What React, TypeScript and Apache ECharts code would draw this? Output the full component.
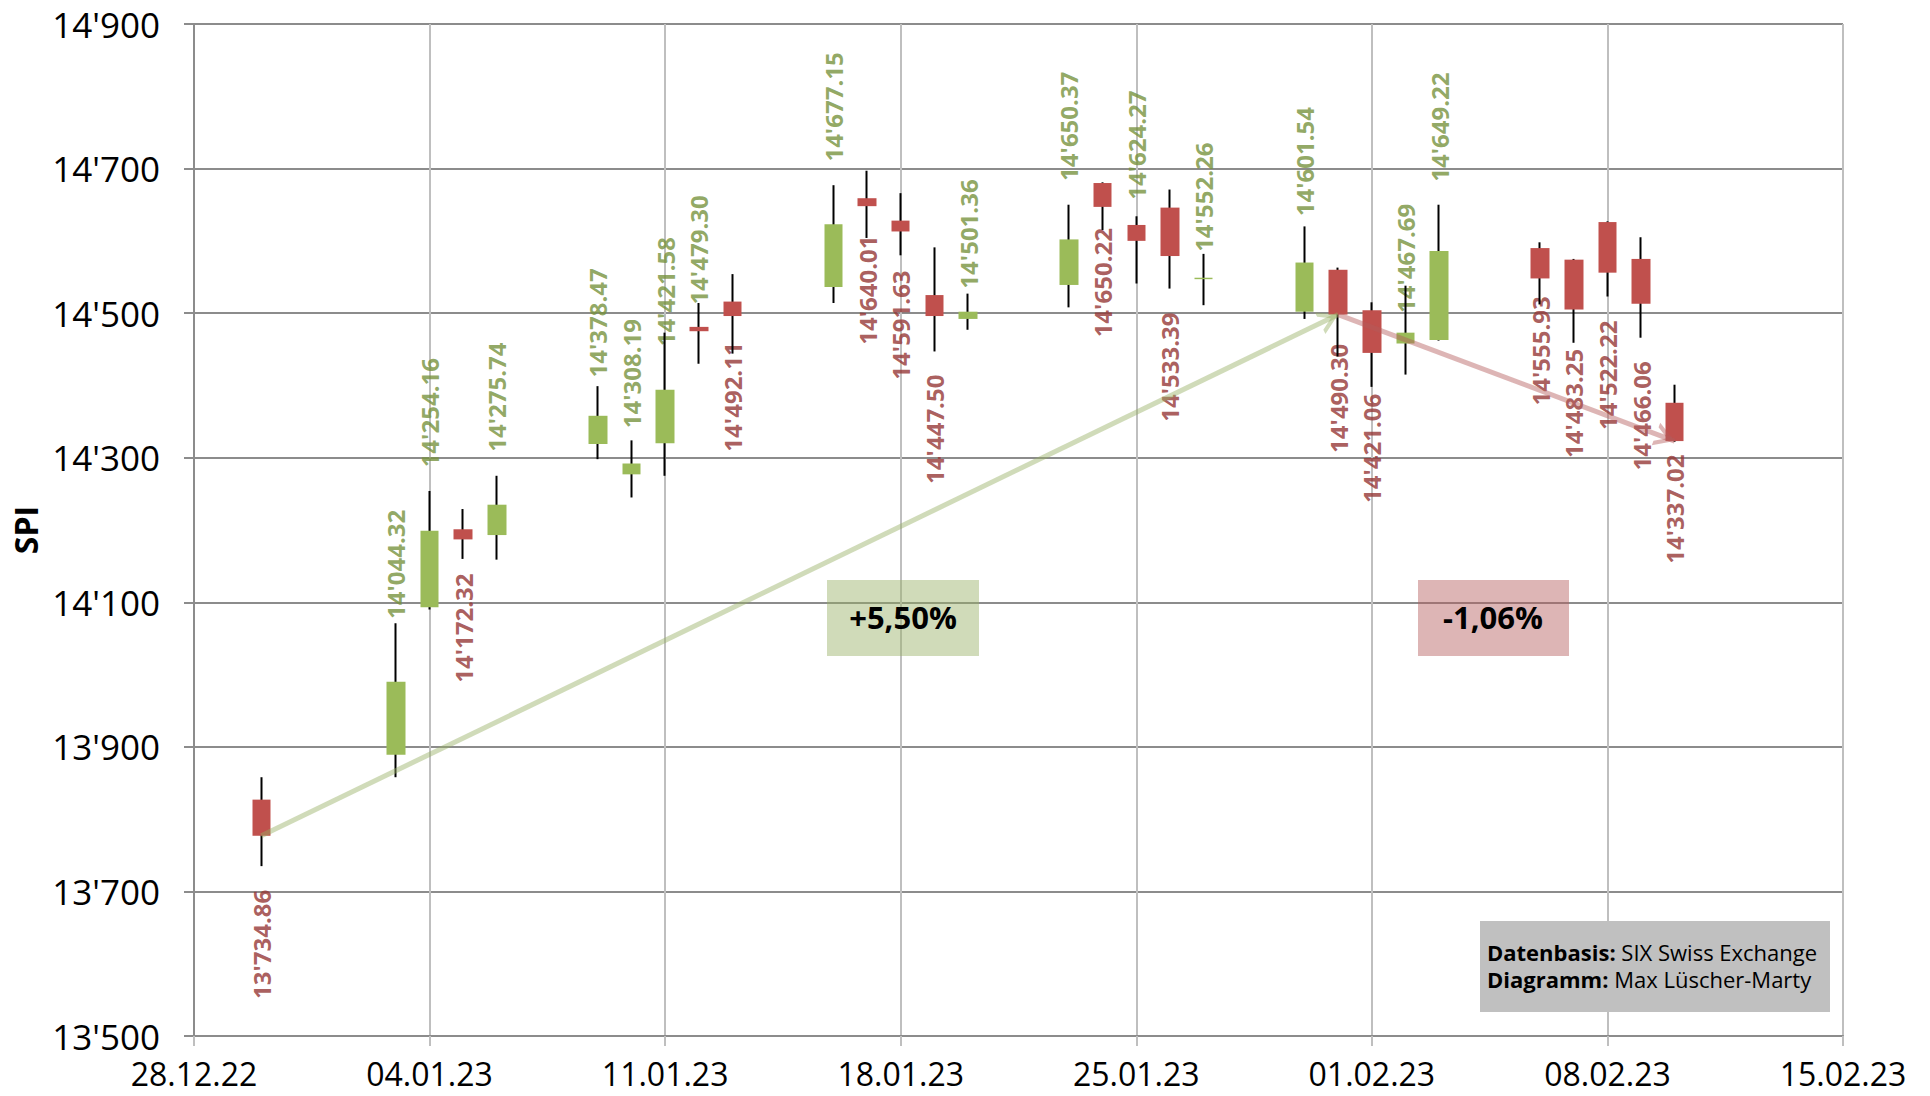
import React, { useEffect, useRef } from "react";
import * as echarts from "echarts";

// ---------- data ----------
const axisStartDate = "2022-12-28";
const xTickLabels = ["28.12.22", "04.01.23", "11.01.23", "18.01.23", "25.01.23", "01.02.23", "08.02.23", "15.02.23"];
const xMaxDays = 49;
const xStepDays = 7;
const yMin = 13500;
const yMax = 14900;
const yStep = 200;

const tradingDays = [
  "2022-12-30", "2023-01-03", "2023-01-04", "2023-01-05", "2023-01-06",
  "2023-01-09", "2023-01-10", "2023-01-11", "2023-01-12", "2023-01-13",
  "2023-01-16", "2023-01-17", "2023-01-18", "2023-01-19", "2023-01-20",
  "2023-01-23", "2023-01-24", "2023-01-25", "2023-01-26", "2023-01-27",
  "2023-01-30", "2023-01-31", "2023-02-01", "2023-02-02", "2023-02-03",
  "2023-02-06", "2023-02-07", "2023-02-08", "2023-02-09", "2023-02-10",
];
const openValues = [
  13827, 13889, 14093, 14201, 14193,
  14319, 14277, 14320, 14481, 14516,
  14536, 14659, 14628, 14525, 14492,
  14539, 14680, 14622, 14646, 14547,
  14502, 14560, 14504, 14458, 14463,
  14590, 14574, 14626, 14575, 14376,
];
const closeValues = [
  13777, 13990, 14199, 14187, 14235,
  14358, 14292, 14394, 14475, 14496,
  14623, 14648, 14613, 14496, 14502,
  14602, 14647, 14600, 14579, 14549,
  14570, 14498, 14445, 14473, 14586,
  14548, 14505, 14556, 14513, 14323,
];
const lowValues = [
  13735, 13858, 14090, 14160, 14159,
  14298, 14245, 14275, 14430, 14444,
  14514, 14604, 14580, 14447, 14477,
  14508, 14615, 14541, 14534, 14511,
  14492, 14440, 14398, 14415, 14462,
  14512, 14459, 14523, 14466, 14322,
];
const highValues = [
  13858, 14071, 14254, 14229, 14275,
  14399, 14324, 14473, 14514, 14554,
  14677, 14697, 14666, 14591, 14527,
  14650, 14681, 14634, 14671, 14582,
  14620, 14563, 14515, 14538, 14650,
  14598, 14575, 14627, 14605, 14401,
];
const closeLabels = [
  13734.86, 14044.32, 14254.16, 14172.32, 14275.74,
  14378.47, 14308.19, 14421.58, 14479.3, 14492.11,
  14677.15, 14640.01, 14591.63, 14447.5, 14501.36,
  14650.37, 14650.22, 14624.27, 14533.39, 14552.26,
  14601.54, 14490.3, 14421.06, 14467.69, 14649.22,
  14555.93, 14483.25, 14522.22, 14466.06, 14337.02,
];
const labelDirection = [
  "down", "up", "up", "down", "up",
  "up", "up", "up", "up", "down",
  "up", "down", "down", "down", "up",
  "up", "down", "up", "down", "up",
  "up", "down", "down", "up", "up",
  "down", "down", "down", "down", "down",
];
const trendArrows = [
  { from: "2022-12-30", to: "2023-01-31", kind: "up" },
  { from: "2023-01-31", to: "2023-02-10", kind: "down" },
];
const sourceLines = [
  { key: "Datenbasis:", text: "SIX Swiss Exchange" },
  { key: "Diagramm:", text: "Max Lüscher-Marty" },
];

// ---------- helpers ----------
const FONT = "'Open Sans', 'Noto Sans', sans-serif";
const GREEN = "#9BBB59";
const RED = "#C0504D";
const GREEN_TXT = "#76923C";
const RED_TXT = "#943634";
const GREEN_SOFT = "rgba(150,175,100,0.45)";
const RED_SOFT = "rgba(180,90,90,0.45)";

function dayOffset(d: string): number {
  const [y, m, dd] = d.split("-").map(Number);
  const [y0, m0, d0] = axisStartDate.split("-").map(Number);
  return Math.round((Date.UTC(y, m - 1, dd) - Date.UTC(y0, m0 - 1, d0)) / 86400000);
}
function swissInt(n: number): string {
  const s = String(Math.trunc(n));
  return s.replace(/\B(?=(\d{3})+(?!\d))/g, "'");
}
function swissNum(n: number): string {
  const [i, d] = n.toFixed(2).split(".");
  return swissInt(Number(i)) + "." + d;
}
function pctText(a: number, b: number): string {
  const p = (b / a - 1) * 100;
  return (p >= 0 ? "+" : "-") + Math.abs(p).toFixed(2).replace(".", ",") + "%";
}

const arrowPath =
  "path://M11.9,-20 L12.1,-20 L12,-19.9 Z M0,20 L12,0 L24,20 L19.2,20 L12,8.2 L4.8,20 Z";

export default function App() {
  const ref = useRef<HTMLDivElement>(null);

  useEffect(() => {
    if (!ref.current) return;
    const chart = echarts.init(ref.current, undefined, { renderer: "svg" });

    const xs = tradingDays.map(dayOffset);
    const wickData = xs.map((x, i) => [x, openValues[i], closeValues[i], lowValues[i], highValues[i]]);
    const bodyData = xs.map((x, i) => [
      x,
      openValues[i],
      closeValues[i],
      Math.min(openValues[i], closeValues[i]),
      Math.max(openValues[i], closeValues[i]),
    ]);
    const labelData = xs.map((x, i) => {
      const up = labelDirection[i] === "up";
      return {
        value: [x, closeLabels[i]],
        label: {
          position: up ? "top" : "bottom",
          align: up ? "left" : "right",
          verticalAlign: "middle",
          color: up ? GREEN_TXT : RED_TXT,
        },
      };
    });

    const idx = (d: string) => tradingDays.indexOf(d);
    const markLines = trendArrows.map((a) => {
      const color = a.kind === "up" ? GREEN_SOFT : RED_SOFT;
      const ls = { color, width: 5, type: "solid" as const, opacity: 1 };
      return [
        { coord: [dayOffset(a.from), closeValues[idx(a.from)]], lineStyle: ls },
        { coord: [dayOffset(a.to), closeValues[idx(a.to)]], lineStyle: ls },
      ];
    });
    const pctUp = pctText(closeLabels[idx(trendArrows[0].from)], closeLabels[idx(trendArrows[0].to)]);
    const pctDown = pctText(closeLabels[idx(trendArrows[1].from)], closeLabels[idx(trendArrows[1].to)]);

    const sourceText = sourceLines.map((l) => `{b|${l.key}} ${l.text}`).join("\n");

    const option: any = {
      animation: false,
      backgroundColor: "#ffffff",
      grid: { left: 194, right: 87, top: 24, bottom: 60, containLabel: false },
      xAxis: {
        type: "value",
        min: 0,
        max: xMaxDays,
        interval: xStepDays,
        axisLine: { show: true, onZero: false, lineStyle: { color: "#8c8c8c", width: 2 } },
        axisTick: { show: true, length: 10, lineStyle: { color: "#bfbfbf", width: 2 } },
        axisLabel: {
          formatter: (v: number) => xTickLabels[Math.round(v / xStepDays)] ?? "",
          fontSize: 32,
          color: "#000",
          fontFamily: FONT,
          margin: 21,
        },
        splitLine: { show: true, lineStyle: { color: "#bfbfbf", width: 2 } },
      },
      yAxis: {
        type: "value",
        min: yMin,
        max: yMax,
        interval: yStep,
        name: "SPI",
        nameLocation: "middle",
        nameRotate: 90,
        nameGap: 146,
        nameTextStyle: { fontSize: 32, fontWeight: "bold", color: "#000", fontFamily: FONT },
        axisLine: { show: true, onZero: false, lineStyle: { color: "#8c8c8c", width: 2 } },
        axisTick: { show: true, length: 10, lineStyle: { color: "#8c8c8c", width: 2 } },
        axisLabel: {
          formatter: (v: number) => swissInt(v),
          fontSize: 35,
          color: "#000",
          fontFamily: FONT,
          margin: 34,
        },
        splitLine: { show: true, lineStyle: { color: "#8c8c8c", width: 2 } },
      },
      series: [
        {
          type: "scatter",
          name: "labels",
          z: 1,
          silent: true,
          symbolSize: 1,
          itemStyle: { color: "rgba(0,0,0,0)" },
          label: {
            show: true,
            rotate: 90,
            distance: 23,
            fontSize: 24,
            fontWeight: "bold",
            fontFamily: FONT,
            formatter: (p: any) => swissNum(p.value[1]),
          },
          data: labelData,
        },
        {
          type: "candlestick",
          name: "wicks",
          z: 3,
          silent: true,
          barWidth: 1,
          itemStyle: {
            color: "#000",
            color0: "#000",
            borderColor: "#000",
            borderColor0: "#000",
            borderWidth: 2,
          },
          data: wickData,
        },
        {
          type: "candlestick",
          name: "SPI",
          z: 4,
          silent: true,
          barWidth: 19,
          itemStyle: {
            color: GREEN,
            color0: RED,
            borderColor: GREEN,
            borderColor0: RED,
            borderWidth: 0,
          },
          data: bodyData,
          markLine: {
            silent: true,
            animation: false,
            symbol: ["none", arrowPath],
            symbolSize: [24, 40],
            label: { show: false },
            emphasis: { disabled: true },
            lineStyle: { width: 5, type: "solid" },
            data: markLines,
          },
        },
      ],
      graphic: [
        {
          type: "rect",
          z: 10,
          shape: { x: 827, y: 580, width: 152, height: 76 },
          style: { fill: GREEN_SOFT },
          silent: true,
        },
        {
          type: "text",
          z: 11,
          x: 903,
          y: 617,
          style: {
            text: pctUp,
            fontSize: 31,
            fontWeight: "bold",
            fontFamily: FONT,
            fill: "#000",
            align: "center",
            verticalAlign: "middle",
            textAlign: "center",
            textVerticalAlign: "middle",
          },
          silent: true,
        },
        {
          type: "rect",
          z: 10,
          shape: { x: 1418, y: 580, width: 151, height: 76 },
          style: { fill: RED_SOFT },
          silent: true,
        },
        {
          type: "text",
          z: 11,
          x: 1493,
          y: 617,
          style: {
            text: pctDown,
            fontSize: 31,
            fontWeight: "bold",
            fontFamily: FONT,
            fill: "#000",
            align: "center",
            verticalAlign: "middle",
            textAlign: "center",
            textVerticalAlign: "middle",
          },
          silent: true,
        },
        {
          type: "rect",
          z: 10,
          shape: { x: 1480, y: 921, width: 350, height: 91 },
          style: { fill: "#c0c0c0" },
          silent: true,
        },
        {
          type: "text",
          z: 11,
          x: 1487,
          y: 965,
          style: {
            text: sourceText,
            fontSize: 22,
            fontFamily: FONT,
            fill: "#000",
            lineHeight: 27,
            align: "left",
            verticalAlign: "middle",
            textAlign: "left",
            textVerticalAlign: "middle",
            rich: {
              b: { fontWeight: "bold", fontSize: 22, fontFamily: FONT, fill: "#000", color: "#000", lineHeight: 27 },
            },
          },
          silent: true,
        },
      ],
    };

    chart.setOption(option);
    return () => chart.dispose();
  }, []);

  return (
    <div
      ref={ref}
      style={{ position: "fixed", left: 0, top: 0, width: 1930, height: 1096, background: "#fff" }}
    />
  );
}
